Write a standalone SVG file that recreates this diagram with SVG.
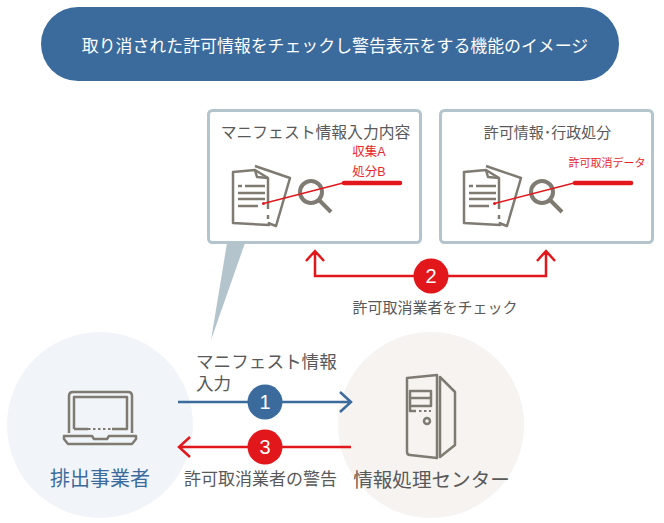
<svg xmlns="http://www.w3.org/2000/svg" xmlns:xlink="http://www.w3.org/1999/xlink" width="664" height="523" viewBox="0 0 664 523">
<style>
text{font-family:"Liberation Sans","Noto Sans CJK JP",sans-serif}
.g{fill:#595959}
.r{fill:#e8262c}
.icon{fill:none;stroke:#7f7b72;stroke-width:2.5;stroke-linejoin:round}
.lens{fill:none;stroke:#7f7b72;stroke-width:4}
.dash{fill:none;stroke:#7f7b72;stroke-width:2;stroke-dasharray:2.500 2.500}
.panel{fill:#fff;stroke:#b4c4cd;stroke-width:3}
.num{fill:#fff;font-size:20px;text-anchor:middle}
.bl{fill:none;stroke:#3b6b9d;stroke-width:2.500}
.rd{fill:none;stroke:#e2171c;stroke-width:2.500}
</style>
<defs>
<g id="docs">
<path class="icon" d="M255 166L290 178L276 226L268 223"/>
<path class="icon" d="M268 209V178L255 170L233 172V223L269 225V222M268 215V219"/>
<path class="icon" d="M255 170L257 177L268 178"/>
<path class="icon" d="M238 186H242M245 186H265M238 193H265M238 199H265M238 206H258"/>
<circle class="lens" cx="311" cy="192" r="11"/>
<path class="lens" d="M319 200L331 212"/>
<path d="M263.500 203.500L343 183" stroke="#e2171c" stroke-width="1.300" fill="none"/>
<circle cx="263.500" cy="203.500" r="1.500" fill="#e2171c"/>
<path d="M344 183H400" stroke="#e2171c" stroke-width="4.500" stroke-linecap="round" fill="none"/>
</g>
</defs>
<rect width="664" height="523" fill="#fff"/>
<g id="title">
<rect x="41" y="7" width="578" height="74" rx="37" fill="#3b6b9d"/>
<text x="335" y="51.500" font-size="16.900" fill="#fff" text-anchor="middle">取り消された許可情報をチェックし警告表示をする機能のイメージ</text>
</g>
<g id="callout"><path d="M227 243H245L211 340Z" fill="#b4c4cd"/></g>
<g id="manifest">
<rect class="panel" x="208.500" y="110.500" width="212" height="132" rx="4"/>
<text class="g" x="315.500" y="138" font-size="15.800" text-anchor="middle">マニフェスト情報入力内容</text>
<use xlink:href="#docs"/>
<text class="r" x="369" y="156" font-size="12.500" text-anchor="middle">収集A</text>
<text class="r" x="369" y="176" font-size="12.500" text-anchor="middle">処分B</text>
</g>
<g id="permit">
<rect class="panel" x="440.500" y="110.500" width="212" height="132" rx="4"/>
<text class="g" x="547.500" y="138" font-size="15" text-anchor="middle">許可情報･行政処分</text>
<use xlink:href="#docs" x="231"/>
<text class="r" x="607" y="167" font-size="11" text-anchor="middle">許可取消データ</text>
</g>
<g id="discharger">
<circle cx="100" cy="425" r="93" fill="#f1f5f9"/>
<path class="icon" d="M69 433V396Q69 392 73 392H128Q132 392 132 396V433"/>
<path class="icon" d="M74 429V397H127V429H112M88 429H74"/>
<path class="dash" d="M88 429H112"/>
<path class="icon" d="M64 436H92L94 439H107L109 436H136V439L132 444H68L64 439Z"/>
<text x="100" y="486" font-size="20" fill="#3b6b9d" text-anchor="middle">排出事業者</text>
</g>
<g id="center">
<circle cx="431" cy="425" r="93" fill="#f6f3f1"/>
<path class="icon" d="M407 378L437 375V458L410 455Q407 455 407 452Z"/>
<path class="icon" d="M440 377L455 392V445L440 457Z"/>
<path class="icon" d="M410 391H431V398H410ZM410 398H431V406H410ZM410 406V411H416"/>
<path class="dash" d="M419 411H431"/>
<circle class="icon" cx="427" cy="421" r="3"/>
<text class="g" x="431.500" y="487" font-size="19.600" text-anchor="middle">情報処理センター</text>
</g>
<g id="connectors">
<path class="bl" d="M178 402H351M340 392L351 402L340 412"/>
<path class="rd" d="M351 447H179M190 437L179 447L190 457"/>
<path class="rd" d="M315 252V276H546V252M306 261L315 251L324 261M537 261L546 251L555 261"/>
</g>
<g id="step1"><circle cx="265" cy="402" r="17.500" fill="#3b6b9d"/><text class="num" x="265" y="409">1</text></g>
<g id="step2"><circle cx="431" cy="276" r="17.500" fill="#e2171c"/><text class="num" x="431" y="283">2</text></g>
<g id="step3"><circle cx="265" cy="447" r="17.500" fill="#e2171c"/><text class="num" x="265" y="454">3</text></g>
<g id="labels">
<text class="g" x="196" y="368" font-size="17.600">マニフェスト情報</text>
<text class="g" x="196" y="390" font-size="17.600">入力</text>
<text class="g" x="435" y="313" font-size="15" text-anchor="middle">許可取消業者をチェック</text>
<text class="g" x="260.500" y="485" font-size="17" text-anchor="middle">許可取消業者の警告</text>
</g>
</svg>
